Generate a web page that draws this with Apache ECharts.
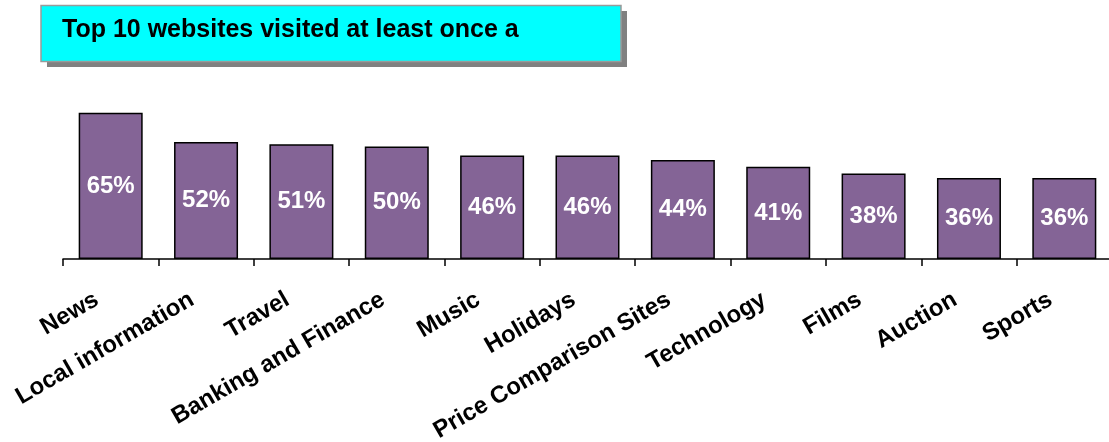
<!DOCTYPE html>
<html>
<head>
<meta charset="utf-8">
<script src="https://cdn.jsdelivr.net/npm/echarts@6/dist/echarts.min.js"></script>
<style>
html,body{margin:0;padding:0;background:#fff;}
#chart{width:1109px;height:442px;}
</style>
</head>
<body>
<div id="chart"></div>
<script>
const titleText = 'Top 10 websites visited at least once a';
const categories = ['News','Local information','Travel','Banking and Finance','Music','Holidays','Price Comparison Sites','Technology','Films','Auction','Sports'];
const values = [65,52,51,50,46,46,44,41,38,36,36];

const FONT = '"Liberation Sans", Arial, sans-serif';
const chart = echarts.init(document.getElementById('chart'), null, {renderer:'canvas'});
chart.setOption({
  animation: false,
  backgroundColor: '#ffffff',
  graphic: [
    {type:'rect', shape:{x:47, y:11, width:580, height:56}, style:{fill:'#808080'}, z:1},
    {type:'rect', shape:{x:41, y:5.5, width:580, height:56}, style:{fill:'#00ffff', stroke:'#9a9a9a', lineWidth:1.5}, z:2},
    {type:'text', x:62, y:30, style:{text:titleText, fill:'#000', font:'bold 25px ' + FONT, verticalAlign:'middle', align:'left'}, z:3}
  ],
  grid: {left:63, right:-3, top:34, bottom:183, containLabel:false, outerBoundsMode:'none'},
  xAxis: {
    type:'category',
    data: categories,
    boundaryGap: true,
    axisLine: {show:true, lineStyle:{color:'#000', width:1.5}},
    axisTick: {show:true, length:7, alignWithLabel:false, lineStyle:{color:'#000', width:1.5}},
    axisLabel: {
      interval:0, rotate:30, margin:31, padding:[0,16,0,0],
      color:'#000', fontWeight:'bold', fontSize:24, fontFamily:FONT
    },
    splitLine:{show:false}
  },
  yAxis: {type:'value', min:0, max:100, show:false, splitLine:{show:false}},
  series: [{
    type:'bar',
    data: values,
    barWidth: 64,
    itemStyle: {color:'#846496', borderColor:'#000', borderWidth:1.5},
    label: {
      show:true, position:'inside', formatter:'{c}%',
      color:'#fff', fontWeight:'bold', fontSize:24, fontFamily:FONT
    }
  }]
});
</script>
</body>
</html>
